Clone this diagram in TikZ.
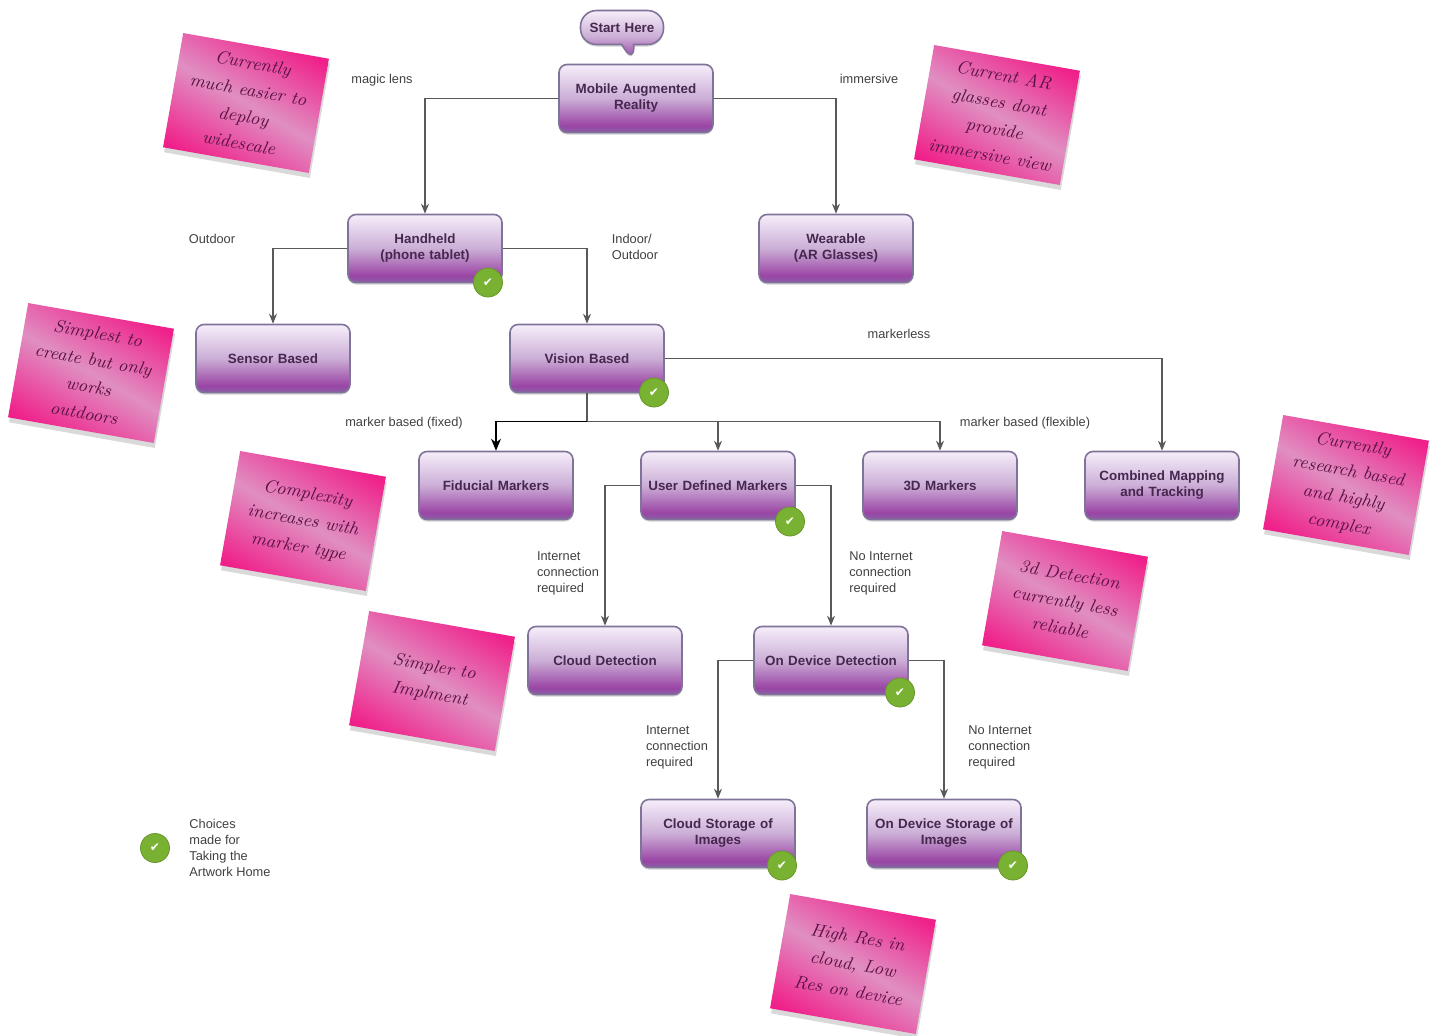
\documentclass[tikz,border=0pt]{standalone}
\usepackage{fontspec}
\usepackage{tikz}
\usetikzlibrary{positioning, shadows, shapes.callouts, arrows.meta}
\newfontfamily\labelfont{Liberation Sans}
\newfontfamily\tickfont{DejaVu Sans}
\definecolor{boxA}{HTML}{8A5FA5}
\definecolor{boxB}{HTML}{9A45A5}
\definecolor{boxC}{HTML}{CBAED6}
\definecolor{boxD}{HTML}{F6EEFA}
\definecolor{boxline}{HTML}{7F7399}
\definecolor{boxtext}{HTML}{46284F}
\definecolor{hotpink}{HTML}{F0208A}
\definecolor{palepink}{HTML}{E08FC2}
\definecolor{notetext}{HTML}{5A1242}
\definecolor{tickgreen}{HTML}{79B232}
\pgfdeclareverticalshading{boxfade}{100bp}{color(0bp)=(boxA); color(25bp)=(boxA); color(30bp)=(boxB); color(50bp)=(boxC); color(75bp)=(boxD); color(100bp)=(boxD)}

\begin{document}
\begin{tikzpicture}[
      x=.5pt, y=-.5pt, on grid,
      box/.style={shading=boxfade, draw=boxline, line width=.8pt, rounded corners=4pt,
        minimum width=77pt, minimum height=34pt, inner sep=0pt, text width=72pt, align=center,
        text=boxtext, font=\labelfont\bfseries\fontsize{6.7}{8}\selectfont,
        drop shadow={shadow xshift=0pt, shadow yshift=-1pt, opacity=.35}},
      note/.style={shade, left color=hotpink, right color=hotpink, middle color=palepink, shading angle=-30,
        rotate=-10, minimum width=74pt, minimum height=58pt, inner sep=0pt, align=center,
        text=notetext, font=\itshape\fontsize{9}{13.5}\selectfont,
        drop shadow={shadow xshift=.5pt, shadow yshift=-2.5pt, opacity=.3}},
      lbl/.style={text=black!75, align=left, inner sep=0pt, font=\labelfont\fontsize{6.4}{8}\selectfont},
      tick/.style={circle, fill=tickgreen, draw=tickgreen!85!black, line width=.4pt, text=white,
        minimum size=14.5pt, inner sep=0pt, font=\tickfont\fontsize{6}{6}\selectfont},
      link/.style={draw=black!65, line width=.6pt, -{Stealth[length=5pt, width=4pt]}}
    ]
    \useasboundingbox (0,0) rectangle (1437,1035);

    % flow boxes
    \node[box] (mar) at (636,98.5) {Mobile Augmented\\Reality};
    \node[box, rectangle callout, rounded corners=8pt, minimum width=41.5pt, minimum height=17pt, text width=38pt,
      callout absolute pointer={(634,63)}, callout pointer width=6pt]
      (start) [above left=35.5pt and 7pt of mar] {Start Here};
    \node[box] (hand) [below left=75pt and 105.5pt of mar] {Handheld\\(phone tablet)};
    \node[box] (wear) [below right=75pt and 100pt of mar] {Wearable\\(AR Glasses)};
    \node[box] (sens) [below left=55pt and 76pt of hand] {Sensor Based};
    \node[box] (vis) [below right=55pt and 81pt of hand] {Vision Based};
    \node[box] (fid) [below left=63.5pt and 45.5pt of vis] {Fiducial Markers};
    \node[box] (udm) [below right=63.5pt and 65.5pt of vis] {User Defined Markers};
    \node[box] (tdm) [right=111pt of udm] {3D Markers};
    \node[box] (comb) [right=111pt of tdm] {Combined Mapping\\and Tracking};
    \node[box] (cloud) [below left=87.5pt and 56.5pt of udm] {Cloud Detection};
    \node[box] (dev) [below right=87.5pt and 56.5pt of udm] {On Device Detection};
    \node[box] (cstore) [below left=86.5pt and 56.5pt of dev] {Cloud Storage of\\Images};
    \node[box] (dstore) [below right=86.5pt and 56.5pt of dev] {On Device Storage of\\Images};
    \coordinate[below=31.5pt of vis] (bus);

    % connectors
    \draw[link] (mar) -| (hand);
    \draw[link] (mar) -| (wear);
    \draw[link] (hand) -| (sens);
    \draw[link] (hand) -| (vis);
    \draw[link] (vis) -| (comb);
    \draw[draw=black!65, line width=.6pt] (vis) -- (bus);
    \draw[link, -{Stealth[length=6pt, width=5pt]}, draw=black] (bus) -| (fid);
    \draw[link] (bus) -| (udm);
    \draw[link] (bus) -| (tdm);
    \draw[link] (udm) -| (cloud);
    \draw[link] (udm) -| (dev);
    \draw[link] (dev) -| (cstore);
    \draw[link] (dev) -| (dstore);

    % ticks
    \node[tick] (thand) [below right=17pt and 31.5pt of hand] {✔};
    \node[tick] (tvis) [below right=17pt and 33.5pt of vis] {✔};
    \node[tick] (tudm) [below right=18pt and 36pt of udm] {✔};
    \node[tick] (tdev) [below right=16pt and 34.5pt of dev] {✔};
    \node[tick] (tcstore) [below right=16pt and 32pt of cstore] {✔};
    \node[tick] (tdstore) [below right=16pt and 34.5pt of dstore] {✔};
    \node[tick] (tkey) at (155,848) {✔};

    % edge labels
    \node[lbl] (lmagic) [above left=9pt and 127pt of mar] {magic lens};
    \node[lbl] (limm) [above right=10pt and 116.5pt of mar] {immersive};
    \node[lbl] (lout) [above left=5pt and 106.5pt of hand] {Outdoor};
    \node[lbl] (lind) [above right=1pt and 105pt of hand] {Indoor/\\Outdoor};
    \node[lbl] (lmkl) [above right=12.5pt and 156pt of vis] {markerless};
    \node[lbl] (lfix) [above left=31pt and 46pt of fid] {marker based (fixed)};
    \node[lbl] (lflex) [above right=31pt and 42.5pt of tdm] {marker based (flexible)};
    \node[lbl] (lint) [below left=44pt and 75pt of udm] {Internet\\connection\\required};
    \node[lbl] (lnoint) [below right=44pt and 81.5pt of udm] {No Internet\\connection\\required};
    \node[lbl] (lint2) [below left=43.5pt and 77pt of dev] {Internet\\connection\\required};
    \node[lbl] (lnoint2) [below right=43.5pt and 84.5pt of dev] {No Internet\\connection\\required};
    \node[lbl] (lkey) [right=37.5pt of tkey] {Choices\\made for\\Taking the\\Artwork Home};

    % sticky notes
    \node[note] (n1) at (246,103) {Currently\\much easier to\\deploy\\widescale};
    \node[note] (n2) at (997,115) {Current AR\\glasses dont\\provide\\immersive view};
    \node[note] (n3) at (91,373) {Simplest to\\create but only\\works\\outdoors};
    \node[note] (n4) at (303,521) {Complexity\\increases with\\marker type};
    \node[note] (n5) at (432,681) {Simpler to\\Implment};
    \node[note] (n6) at (1346,485) {Currently\\research based\\and highly\\complex};
    \node[note] (n7) at (1065,601) {3d Detection\\currently less\\reliable};
    \node[note] (n8) at (853,964) {High Res in\\cloud, Low\\Res on device};
  \end{tikzpicture}
\end{document}
